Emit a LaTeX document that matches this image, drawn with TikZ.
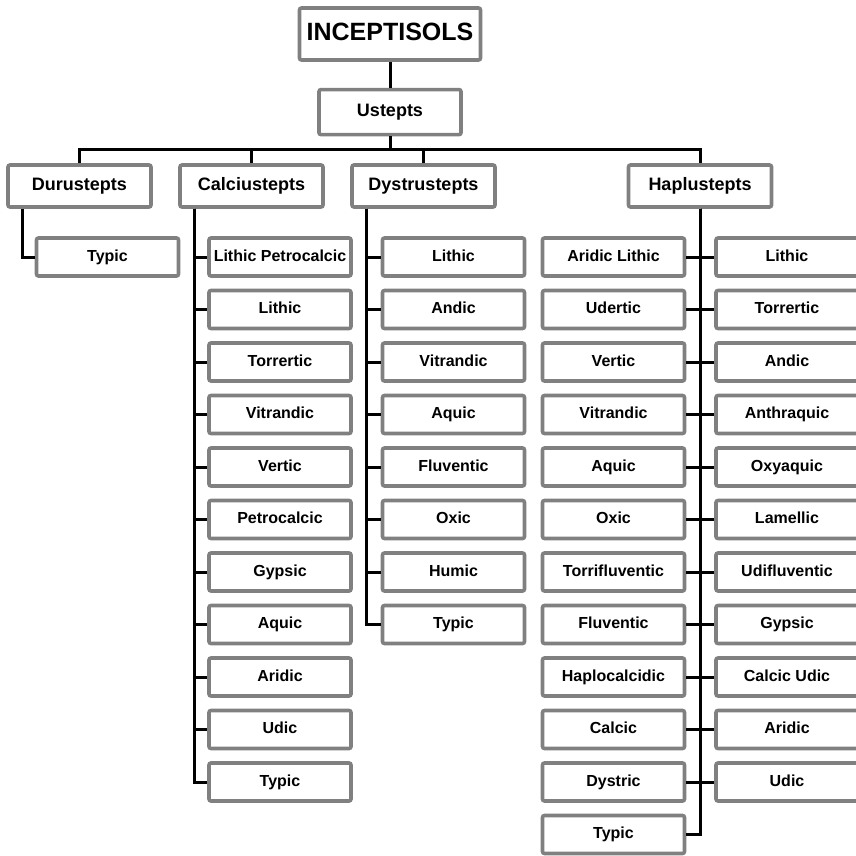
\documentclass[tikz,border=0pt]{standalone}
\usepackage{fontspec}
\setmainfont{Liberation Sans}
\usepackage{tikz}
\usetikzlibrary{positioning,calc}
\definecolor{boxline}{RGB}{128,128,128}
\tikzset{
  box/.style={draw=boxline,line width=3.6pt,rounded corners=2pt,fill=white,align=center,inner sep=2pt},
  root/.style={box,minimum width=181pt,minimum height=52pt,text height=18pt,text depth=4pt,font=\fontsize{25}{28}\selectfont\bfseries},
  sub/.style={box,minimum width=142pt,minimum height=45pt,text height=13pt,text depth=3.5pt,font=\fontsize{18}{21}\selectfont\bfseries},
  grp/.style={box,minimum width=143pt,minimum height=42pt,text height=13pt,text depth=3.5pt,font=\fontsize{18}{21}\selectfont\bfseries},
  leaf/.style={box,minimum width=142pt,minimum height=38pt,text height=11.5pt,text depth=3pt,font=\fontsize{16}{19}\selectfont\bfseries},
  ln/.style={line width=3pt,black},
}
\begin{document}
\begin{tikzpicture}[x=1pt,y=-1pt]
  \useasboundingbox (0,0) rectangle (855,856);
  % order and suborder
  \node[root] (inc) at (390,34) {INCEPTISOLS};
  \node[sub,below=26pt of inc] (ust) {Ustepts};
  % great groups
  \node[grp] (dur) at (79.5,186) {Durustepts};
  \node[grp] (cal) at (251.5,186) {Calciustepts};
  \node[grp] (dys) at (423.5,186) {Dystrustepts};
  \node[grp] (hap) at (700,186) {Haplustepts};
  % subgroups
  \node[leaf] (du1) at (107.5,257) {Typic};
  \foreach \t [count=\i] in {Lithic Petrocalcic,Lithic,Torrertic,Vitrandic,Vertic,Petrocalcic,Gypsic,Aquic,Aridic,Udic,Typic}
    \node[leaf] (ca\i) at (280,{257+52.5*(\i-1)}) {\t};
  \foreach \t [count=\i] in {Lithic,Andic,Vitrandic,Aquic,Fluventic,Oxic,Humic,Typic}
    \node[leaf] (dy\i) at (453.5,{257+52.5*(\i-1)}) {\t};
  \foreach \t [count=\i] in {Aridic Lithic,Udertic,Vertic,Vitrandic,Aquic,Oxic,Torrifluventic,Fluventic,Haplocalcidic,Calcic,Dystric,Typic}
    \node[leaf] (hl\i) at (613.5,{257+52.5*(\i-1)}) {\t};
  \foreach \t [count=\i] in {Lithic,Torrertic,Andic,Anthraquic,Oxyaquic,Lamellic,Udifluventic,Gypsic,Calcic Udic,Aridic,Udic}
    \node[leaf] (hr\i) at (787,{257+52.5*(\i-1)}) {\t};
  % connectors
  \draw[ln] (inc) -- (ust);
  \foreach \g in {dur,cal,dys,hap}
    \draw[ln] (ust.south) -- ++(0,13) -| (\g.north);
  \draw[ln] ($(dur.south west)+(16,0)$) |- (du1.west);
  \foreach \i in {1,...,11}
    \draw[ln] ($(cal.south west)+(16,0)$) |- (ca\i.west);
  \foreach \i in {1,...,8}
    \draw[ln] ($(dys.south west)+(16,0)$) |- (dy\i.west);
  \foreach \i in {1,...,12}
    \draw[ln] (hap.south) |- (hl\i.east);
  \foreach \i in {1,...,11}
    \draw[ln] (hap.south) |- (hr\i.west);
\end{tikzpicture}
\end{document}
